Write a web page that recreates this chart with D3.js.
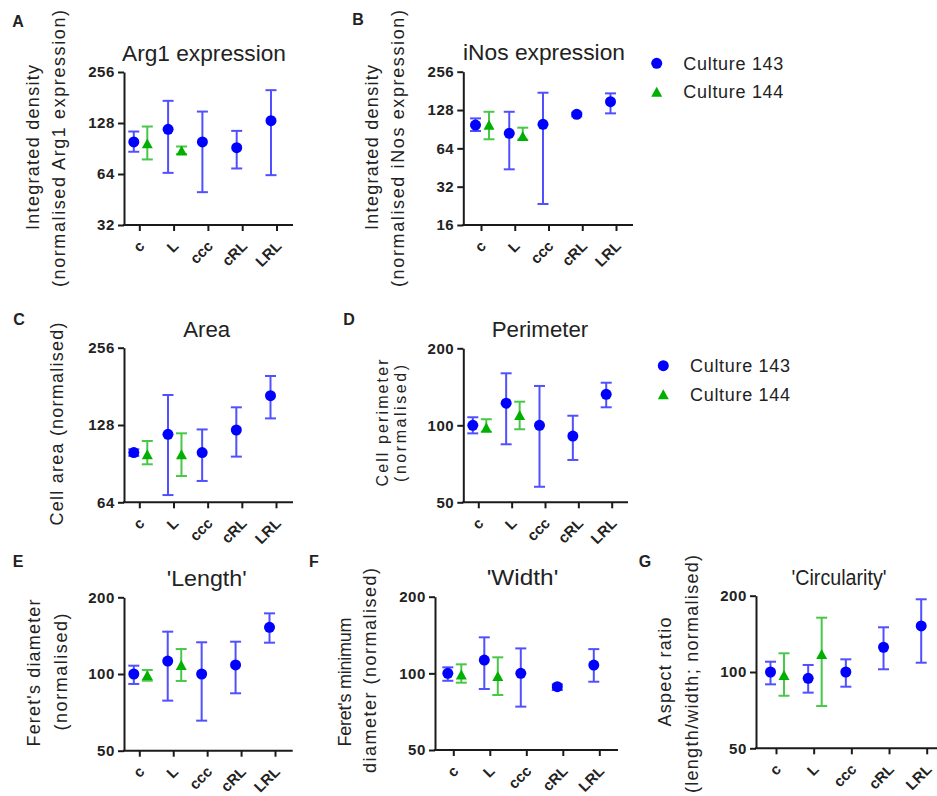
<!DOCTYPE html>
<html><head><meta charset="utf-8">
<script src="https://cdn.jsdelivr.net/npm/d3@7"></script>
<style>
html,body{margin:0;padding:0;background:#fff;}
svg{display:block;font-family:"Liberation Sans",Arial,sans-serif;}
</style></head>
<body>
<svg id="chart" width="937" height="796"></svg>
<script>
// ---------- data ----------
const categories = ["c", "L", "ccc", "cRL", "LRL"];
const greenCategories = ["c", "L"];
const seriesNames = ["Culture 143", "Culture 144"];

// A: Arg1 expression
const arg1Blue   = [99, 117.5, 99, 91.5, 132];
const arg1BlueLo = [86.6, 65, 50, 69, 63];
const arg1BlueHi = [114, 173, 149.5, 115, 200];
const arg1Green   = [97, 88];
const arg1GreenLo = [78, 84];
const arg1GreenHi = [122, 93];
const arg1Ticks = [32, 64, 128, 256];

// B: iNos expression
const inosBlue   = [97.6, 84, 98.8, 118.4, 148.8];
const inosBlueLo = [87.6, 43.8, 23.4, 114, 120.5];
const inosBlueHi = [110, 124, 175, 122, 173];
const inosGreen   = [98, 80];
const inosGreenLo = [75.4, 75];
const inosGreenHi = [124, 93];
const inosTicks = [16, 32, 64, 128, 256];

// C: Area
const areaBlue   = [100, 117.7, 100, 122.4, 166.5];
const areaBlueLo = [97, 68.3, 77.5, 96.4, 135.8];
const areaBlueHi = [103, 167.5, 123, 150, 198.6];
const areaGreen   = [98.5, 98.5];
const areaGreenLo = [90, 81];
const areaGreenHi = [110.9, 118.8];
const areaTicks = [64, 128, 256];

// D: Perimeter
const perimBlue   = [100, 122, 100, 90.8, 132.2];
const perimBlueLo = [93, 84.3, 57.5, 73.2, 117.6];
const perimBlueHi = [107.5, 159.7, 142.5, 109, 146.7];
const perimGreen   = [98, 109.7];
const perimGreenLo = [94.4, 96.5];
const perimGreenHi = [105.6, 123.7];
const shapeTicks = [50, 100, 200];

// E: 'Length'
const lengthBlue   = [100, 112.4, 100, 108.5, 152.5];
const lengthBlueLo = [91.4, 78.6, 65.6, 84, 132.7];
const lengthBlueHi = [107.8, 146.6, 133.2, 133.9, 173];
const lengthGreen   = [99, 108.5];
const lengthGreenLo = [94.1, 93.9];
const lengthGreenHi = [103.7, 125.3];

// F: 'Width'
const widthBlue   = [100, 112.8, 100, 88.6, 107.8];
const widthBlueLo = [93.5, 86.8, 74, 86, 92.7];
const widthBlueHi = [105.6, 138.5, 125.3, 90.5, 124.5];
const widthGreen   = [99, 97.6];
const widthGreenLo = [91.9, 82.2];
const widthGreenHi = [108.5, 115.6];

// G: 'Circularity'
const circBlue   = [100, 94.4, 100, 125.2, 151.9];
const circBlueLo = [89.4, 82.9, 87.5, 102.5, 108.8];
const circBlueHi = [109.8, 106.6, 112.2, 150.1, 193.6];
const circGreen   = [97.3, 117.8];
const circGreenLo = [80.6, 73.4];
const circGreenHi = [118.5, 163.8];

// ---------- styles ----------
const BLUE = "#0000ff", BLUE_BAR = "#5050ff";
const GREEN = "#00b000", GREEN_BAR = "#48c848";
const AXIS = "#1a1a1a", TEXT = "#222";

// ---------- panel layouts ----------
const panels = [
  {letter:"A", lx:18, ly:21, title:"Arg1 expression", tx:204, ty:61, tl:164,
   ax:124, xEnd:293, yTop:72, yBot:225, dom:[32,256], ticks:arg1Ticks, cx:[139.3,276.5],
   ytitle:[{t:"Integrated density",x:33,y:147.5,l:165},{t:"(normalised Arg1 expression)",x:59,y:148.5,l:277}],
   blue:[arg1Blue,arg1BlueLo,arg1BlueHi], green:[arg1Green,arg1GreenLo,arg1GreenHi]},
  {letter:"B", lx:358, ly:19, title:"iNos expression", tx:544, ty:60, tl:162,
   ax:463.3, xEnd:633, yTop:71.7, yBot:225, dom:[16,256], ticks:inosTicks, cx:[481,616],
   ytitle:[{t:"Integrated density",x:372,y:147.5,l:165},{t:"(normalised iNos expression)",x:397.5,y:148.5,l:277}],
   blue:[inosBlue,inosBlueLo,inosBlueHi], green:[inosGreen,inosGreenLo,inosGreenHi]},
  {letter:"C", lx:19, ly:319, title:"Area", tx:206.7, ty:336.7, tl:47,
   ax:124, xEnd:293, yTop:347.7, yBot:502.3, dom:[64,256], ticks:areaTicks, cx:[139.3,276],
   ytitle:[{t:"Cell area (normalised)",x:57,y:424,l:203}],
   blue:[areaBlue,areaBlueLo,areaBlueHi], green:[areaGreen,areaGreenLo,areaGreenHi]},
  {letter:"D", lx:349, ly:319, title:"Perimeter", tx:540, ty:337.3, tl:96.6,
   ax:463.3, xEnd:628, yTop:348.3, yBot:502.3, dom:[50,200], ticks:shapeTicks, cx:[478.3,611.7],
   ytitle:[{t:"Cell perimeter",x:382.5,y:423,l:127,fs:16},{t:"(normalised)",x:400,y:423.5,l:117,fs:16}],
   blue:[perimBlue,perimBlueLo,perimBlueHi], green:[perimGreen,perimGreenLo,perimGreenHi]},
  {letter:"E", lx:18, ly:561, title:"'Length'", tx:206.7, ty:586, tl:80,
   ax:124, xEnd:292.7, yTop:597.3, yBot:750.7, dom:[50,200], ticks:shapeTicks, cx:[139.3,275],
   ytitle:[{t:"Feret's diameter",x:34,y:673,l:147},{t:"(normalised)",x:60.5,y:672,l:117}],
   blue:[lengthBlue,lengthBlueLo,lengthBlueHi], green:[lengthGreen,lengthGreenLo,lengthGreenHi]},
  {letter:"F", lx:314, ly:561, title:"'Width'", tx:522.5, ty:585, tl:71.6,
   ax:435, xEnd:618, yTop:596.7, yBot:750, dom:[50,200], ticks:shapeTicks, cx:[453.3,599.3],
   ytitle:[{t:"Feret's minimum",x:345,y:682,l:129},{t:"diameter (normalised)",x:370,y:670.5,l:205}],
   blue:[widthBlue,widthBlueLo,widthBlueHi], green:[widthGreen,widthGreenLo,widthGreenHi]},
  {letter:"G", lx:645, ly:561, title:"'Circularity'", tx:839, ty:585, tl:95,
   ax:756, xEnd:937, yTop:595.7, yBot:748.3, dom:[50,200], ticks:shapeTicks, cx:[776,926.7],
   ytitle:[{t:"Aspect ratio",x:665,y:672,l:109},{t:"(length/width; normalised)",x:691.7,y:674,l:238}],
   blue:[circBlue,circBlueLo,circBlueHi], green:[circGreen,circGreenLo,circGreenHi]}
];

const legends = [{x:656.7, y:[63.3, 91.7], tx:683.3}, {x:663.3, y:[365.7, 394.3], tx:690}];

const svg = d3.select("#chart");

function triPath(cx, cy, s) {
  const h = s * 0.9;
  return `M${cx},${cy - h/2}L${cx + s/2},${cy + h/2}L${cx - s/2},${cy + h/2}Z`;
}

function drawSeries(g, x, y, cats, vals, color, barColor, shape, off) {
  const [m, lo, hi] = vals;
  const data = cats.map((c, i) => ({c, m: m[i], lo: lo[i], hi: hi[i]}));
  const sg = g.append("g");
  const cap = 5.5;
  data.forEach(d => {
    const xc = x(d.c) + off;
    sg.append("line").attr("x1", xc).attr("x2", xc).attr("y1", y(d.lo)).attr("y2", y(d.hi))
      .attr("stroke", barColor).attr("stroke-width", 2);
    [d.lo, d.hi].forEach(v => sg.append("line").attr("x1", xc - cap).attr("x2", xc + cap)
      .attr("y1", y(v)).attr("y2", y(v)).attr("stroke", barColor).attr("stroke-width", 2));
    if (shape === "circle") {
      sg.append("circle").attr("cx", xc).attr("cy", y(d.m)).attr("r", 5.5).attr("fill", color);
    } else {
      sg.append("path").attr("d", triPath(xc, y(d.m), 11)).attr("fill", color);
    }
  });
}

panels.forEach(p => {
  const g = svg.append("g");
  const y = d3.scaleLog().base(2).domain(p.dom).range([p.yBot, p.yTop]);
  const x = d3.scalePoint().domain(categories).range(p.cx);

  // panel letter
  g.append("text").attr("x", p.lx).attr("y", p.ly).attr("dy", "0.35em").attr("text-anchor", "middle")
    .attr("font-size", 16).attr("font-weight", "bold").attr("fill", TEXT).text(p.letter);
  // title
  g.append("text").attr("x", p.tx).attr("y", p.ty).attr("text-anchor", "middle")
    .attr("font-size", 22).attr("fill", TEXT).attr("textLength", p.tl).attr("lengthAdjust", "spacingAndGlyphs")
    .text(p.title);
  // y titles
  p.ytitle.forEach(t => {
    g.append("text").attr("transform", `translate(${t.x},${t.y}) rotate(-90)`)
      .attr("text-anchor", "middle").attr("dy", "0.35em").attr("font-size", t.fs || 18).attr("fill", TEXT)
      .attr("textLength", t.l).attr("lengthAdjust", "spacing").text(t.t);
  });

  // y axis
  const ya = g.append("g").attr("transform", `translate(${p.ax},0)`)
    .call(d3.axisLeft(y).tickValues(p.ticks).tickFormat(d3.format("d")).tickSize(6).tickPadding(3).tickSizeOuter(0));
  ya.select(".domain").attr("stroke", AXIS).attr("stroke-width", 2);
  ya.selectAll(".tick line").attr("stroke", AXIS).attr("stroke-width", 2);
  ya.selectAll(".tick text").attr("font-size", 15).attr("font-weight", "bold").attr("fill", TEXT)
    .attr("font-family", "'Liberation Sans', Arial, sans-serif").style("letter-spacing", "0.6px");

  // x axis
  const xa = g.append("g").attr("transform", `translate(0,${p.yBot})`)
    .call(d3.axisBottom(x).tickSize(6).tickFormat(""));
  xa.select(".domain").remove();
  xa.selectAll(".tick line").attr("stroke", AXIS).attr("stroke-width", 2);
  g.append("line").attr("x1", p.ax - 1).attr("x2", p.xEnd).attr("y1", p.yBot).attr("y2", p.yBot)
    .attr("stroke", AXIS).attr("stroke-width", 2);
  g.selectAll(".cat").data(categories).enter().append("text")
    .attr("transform", d => `translate(${x(d) + 6},${p.yBot + 22}) rotate(-45)`)
    .attr("text-anchor", "end").attr("font-size", 15).attr("font-weight", "bold").attr("fill", TEXT)
    .text(d => d);

  drawSeries(g, x, y, categories, p.blue, BLUE, BLUE_BAR, "circle", -5.5);
  drawSeries(g, x, y, greenCategories, p.green, GREEN, GREEN_BAR, "tri", 8);
});

// legends
legends.forEach(L => {
  const g = svg.append("g");
  g.append("circle").attr("cx", L.x).attr("cy", L.y[0]).attr("r", 5.5).attr("fill", BLUE);
  g.append("path").attr("d", triPath(L.x, L.y[1], 11)).attr("fill", GREEN);
  seriesNames.forEach((s, i) => {
    g.append("text").attr("x", L.tx).attr("y", L.y[i]).attr("dy", "0.35em").attr("font-size", 18)
      .attr("fill", TEXT).attr("textLength", 100).attr("lengthAdjust", "spacing").text(s);
  });
});
</script>
</body></html>
